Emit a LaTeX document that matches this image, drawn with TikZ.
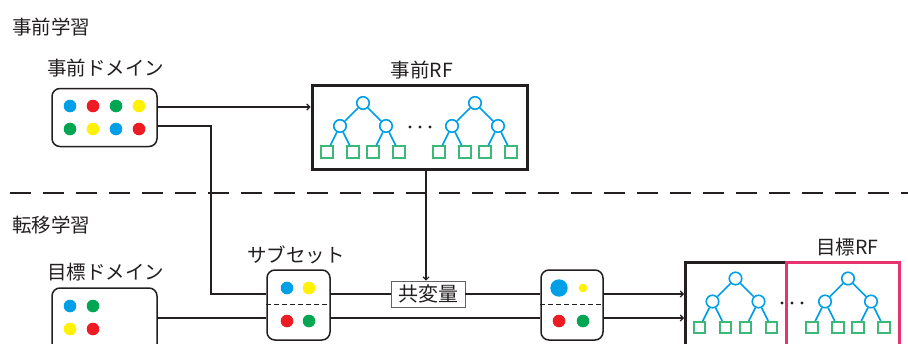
\documentclass[tikz,border=0pt]{standalone}
\usepackage{fontspec}
\setmainfont{Noto Sans CJK JP}
\usetikzlibrary{arrows.meta,calc}
\definecolor{dcyan}{HTML}{00A0E9}
\definecolor{dred}{HTML}{ED1C24}
\definecolor{dgreen}{HTML}{00A651}
\definecolor{dyellow}{HTML}{FFF200}
\definecolor{lgreen}{HTML}{3CB878}
\definecolor{dpink}{HTML}{E8336E}
\definecolor{ink}{HTML}{231F20}
\tikzset{
  lbl/.style={font=\fontsize{19.5}{22}\selectfont, text=ink, inner sep=0pt, anchor=base},
  dombox/.style={draw=ink, line width=1.5pt, rounded corners=8pt, fill=white, inner sep=0pt},
  rfbox/.style={draw=ink, line width=3pt, inner sep=0pt},
  conn/.style={draw=ink, line width=1.3pt},
  arr/.style={conn, -{Straight Barb[length=3pt,width=6pt,line width=1.1pt]}},
  tnode/.style={circle, draw=dcyan, line width=1.6pt, fill=white, minimum size=12.5pt, inner sep=0pt},
  leaf/.style={rectangle, draw=lgreen, line width=1.6pt, fill=white, minimum size=11.5pt, inner sep=0pt},
  tedge/.style={draw=dcyan, line width=1.6pt},
  ell/.style={fill=ink},
  divider/.style={draw=ink, line width=1.3pt, dash pattern=on 5pt off 3pt},
}
\newcommand\mytree[3]{%
  \node[tnode] (#1r) at (#2,#3) {};
  \node[tnode] (#1a) at (#2-23,#3+23) {};
  \node[tnode] (#1b) at (#2+23,#3+23) {};
  \node[leaf] (#1l1) at (#2-36,#3+49) {};
  \node[leaf] (#1l2) at (#2-10,#3+49) {};
  \node[leaf] (#1l3) at (#2+10,#3+49) {};
  \node[leaf] (#1l4) at (#2+36,#3+49) {};
  \draw[tedge] (#1r) -- (#1a);
  \draw[tedge] (#1r) -- (#1b);
  \draw[tedge] (#1a) -- (#1l1);
  \draw[tedge] (#1a) -- (#1l2);
  \draw[tedge] (#1b) -- (#1l3);
  \draw[tedge] (#1b) -- (#1l4);
}
\begin{document}
\begin{tikzpicture}[x=1pt,y=-1pt]
\useasboundingbox (0,0) rectangle (908,343);
\clip (0,0) rectangle (908,343);
\fill[white] (0,0) rectangle (908,343);

% section labels
\node[lbl, anchor=base west] (tpre) at (12,34) {事前学習};
\node[lbl, anchor=base west] (ttra) at (12,232) {転移学習};

% separator
\coordinate (sepL) at (10,193);
\coordinate (sepR) at (908,193);
\draw[ink, line width=1.6pt, dash pattern=on 21pt off 12pt] (sepL) -- (sepR);

% prior domain
\node[lbl] (lpd) at (105.5,75.5) {事前ドメイン};
\node[dombox, minimum width=105pt, minimum height=58pt] (pd) at (104.5,117.5) {};
\fill[dcyan] (70,106) circle (6.3pt);
\fill[dred] (93,106) circle (6.3pt);
\fill[dgreen] (116,106) circle (6.3pt);
\fill[dyellow] (139,106) circle (6.3pt);
\fill[dgreen] (70,129) circle (6.3pt);
\fill[dyellow] (93,129) circle (6.3pt);
\fill[dcyan] (116,129) circle (6.3pt);
\fill[dred] (139,129) circle (6.3pt);

% prior RF
\node[lbl] (lrf1) at (422,77) {事前RF};
\node[rfbox, minimum width=215pt, minimum height=84pt] (rf1) at (419.5,127) {};
\mytree{A}{363}{103}
\mytree{B}{475}{103}
\fill[ell] (410,127) circle (1.7pt);
\fill[ell] (420,127) circle (1.7pt);
\fill[ell] (430,127) circle (1.7pt);

% target domain
\node[lbl] (ltd) at (105.5,279) {目標ドメイン};
\node[dombox, minimum width=105pt, minimum height=64pt] (td) at (104.5,320) {};
\fill[dcyan] (70,306) circle (6.3pt);
\fill[dgreen] (93,306) circle (6.3pt);
\fill[dyellow] (70,329) circle (6.3pt);
\fill[dred] (93,329) circle (6.3pt);

% subset 1
\node[lbl] (lsub) at (296,262) {サブセット};
\node[dombox, minimum width=63pt, minimum height=70pt] (s1) at (298.5,305) {};
\draw[divider] (s1.west |- 0,304.5) -- (s1.east |- 0,304.5);
\fill[dcyan] (287,288) circle (6.3pt);
\fill[dyellow] (309,288) circle (6.3pt);
\fill[dred] (287,321) circle (6.3pt);
\fill[dgreen] (309,321) circle (6.3pt);

% covariate
\node[draw=ink!70, line width=0.9pt, fill=white, minimum width=74pt, minimum height=26pt, inner sep=0pt, font=\fontsize{20}{22}\selectfont, text=ink] (cov) at (428,294) {共変量};

% subset 2
\node[dombox, minimum width=62pt, minimum height=70pt] (s2) at (572,305) {};
\draw[divider] (s2.west |- 0,304.5) -- (s2.east |- 0,304.5);
\fill[dcyan] (559,288) circle (8.7pt);
\fill[dyellow] (583,288) circle (4.3pt);
\fill[dred] (559,321) circle (6.3pt);
\fill[dgreen] (583,321) circle (6.3pt);

% target RF
\node[lbl] (lrf2) at (847.5,254) {目標RF};
\node[rfbox, minimum width=214pt, minimum height=90pt, anchor=north west] (rf2) at (684,261) {};
\node[draw=dpink, line width=2.8pt, inner sep=0pt, minimum width=113pt, minimum height=90pt, anchor=north west] (rf2p) at (785,261) {};
\mytree{C}{735.5}{278.5}
\mytree{D}{848}{278.5}
\fill[ell] (782,303) circle (1.7pt);
\fill[ell] (792,303) circle (1.7pt);
\fill[ell] (802,303) circle (1.7pt);

% connectors
\draw[arr] ([yshift=10.5pt]pd.east) -- ([yshift=20pt]rf1.west);
\coordinate (bend1) at (211,126);
\coordinate (bend2) at (211,294);
\draw[conn] ([yshift=-8.5pt]pd.east) -- (bend1) -- (bend2) -- ([yshift=11pt]s1.west);
\draw[conn] (td.east |- 0,318) -- ([yshift=-13pt]s1.west);
\draw[arr] ([xshift=6.5pt]rf1.south) -- ([xshift=-2pt]cov.north);
\draw[conn] ([yshift=11pt]s1.east) -- (cov.west);
\draw[conn] (cov.east) -- ([yshift=11pt]s2.west);
\draw[conn] ([yshift=-13pt]s1.east) -- ([yshift=-13pt]s2.west);
\draw[arr] ([yshift=11pt]s2.east) -- (rf2.west |- 0,294);
\draw[arr] ([yshift=-13pt]s2.east) -- (rf2.west |- 0,318);
\end{tikzpicture}
\end{document}
